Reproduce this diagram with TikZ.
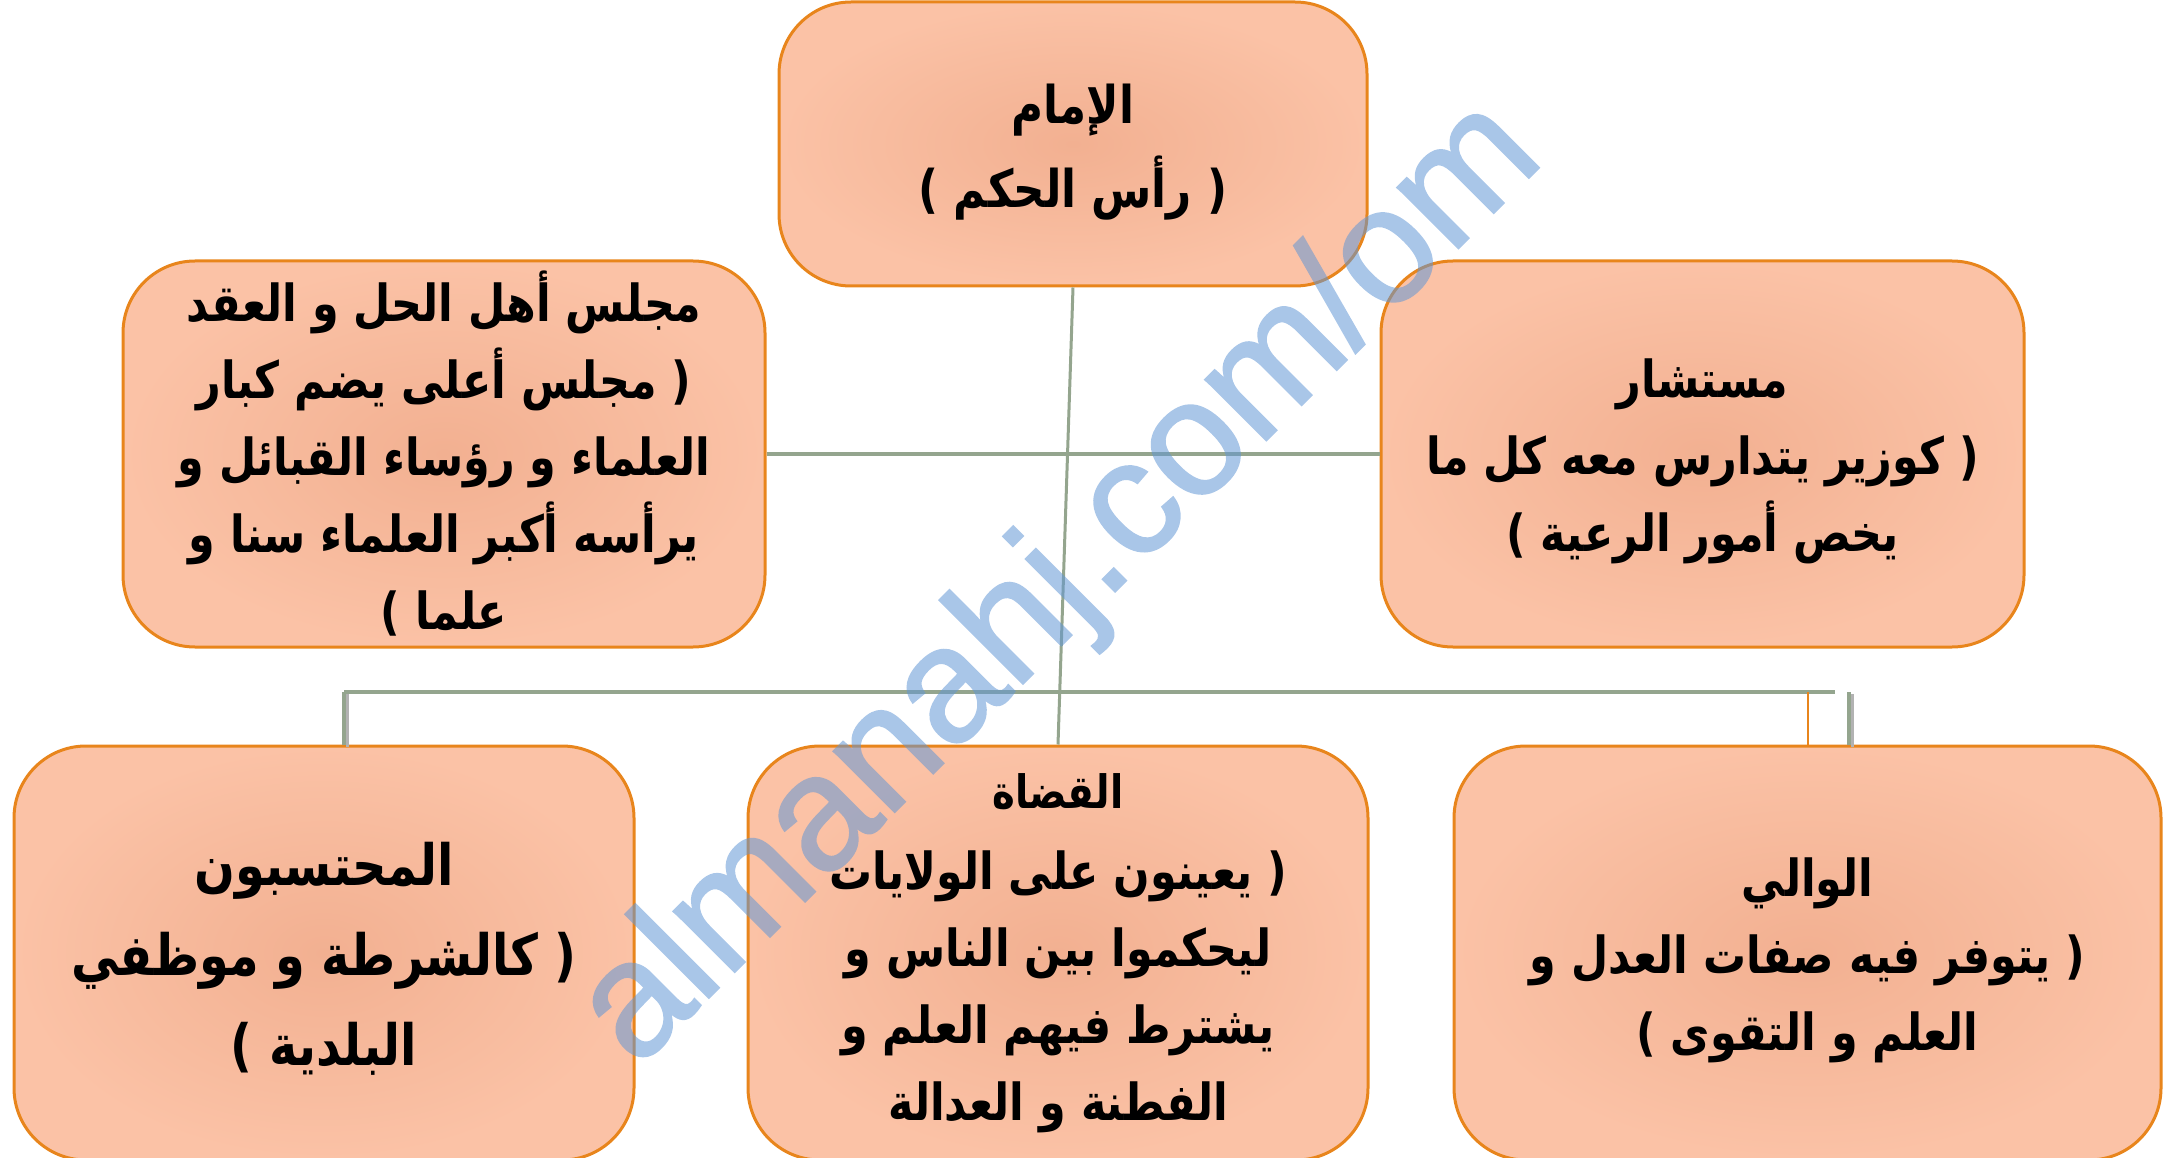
\documentclass[tikz,border=0pt]{standalone}
\usepackage{fontspec}
\usetikzlibrary{calc}
\TeXXeTstate=1
\newfontfamily\arabicfont[Script=Arabic,FakeStretch=0.84,BoldFont={DejaVu Sans Bold}]{DejaVu Sans}
\newfontfamily\markfont[FakeBold=1.2]{Liberation Sans}
\newcommand{\ar}[1]{\beginR #1\endR}
\newcommand{\firstl}[1]{\rule{0pt}{#1pt}}
\definecolor{boxedge}{HTML}{E8851C}
\definecolor{boxin}{HTML}{F2B091}
\definecolor{boxout}{HTML}{FBC2A6}
\definecolor{linkc}{HTML}{94A58E}
\definecolor{wm}{HTML}{6297D5}
\tikzset{
  orgbox/.style={draw=boxedge,line width=3pt,rounded corners=72pt,inner color=boxin,outer color=boxout,rectangle,align=center,inner sep=0pt,text=black},
  txtm/.style={font=\arabicfont\bfseries\fontsize{51}{77}\selectfont},
  txtl/.style={font=\arabicfont\bfseries\fontsize{57}{90}\selectfont},
  txtt/.style={font=\arabicfont\bfseries\fontsize{52}{84}\selectfont},
  link/.style={draw=linkc,line width=4pt},
  shade line/.style={draw=black!30,line width=3pt},
}
\begin{document}
\begin{tikzpicture}[x=1pt,y=-1pt]
\useasboundingbox (0,0) rectangle (2177,1158);
\node[orgbox,txtt,minimum width=588pt,minimum height=284pt] (top) at (1073,144) {\firstl{56}\ar{الإمام}\\\ar{( رأس الحكم )}};
\node[orgbox,txtm,minimum width=642pt,minimum height=386pt] (lft) at (444,454) {\ar{مجلس أهل الحل و العقد}\\\ar{( مجلس أعلى يضم كبار}\\\ar{العلماء و رؤساء القبائل و}\\\ar{يرأسه أكبر العلماء سنا و}\\\ar{علما )}};
\node[orgbox,txtm,minimum width=643pt,minimum height=386pt] (rgt) at (1702.5,454) {\firstl{54}\ar{مستشار}\\\ar{( كوزير يتدارس معه كل ما}\\\ar{يخص أمور الرعية )}};
\node[orgbox,txtl,minimum width=620pt,minimum height=414pt] (bl) at (324,953) {\firstl{54}\ar{المحتسبون}\\\ar{( كالشرطة و موظفي}\\\ar{البلدية )}};
\node[orgbox,txtm,minimum width=620pt,minimum height=414pt] (bm) at (1058,953) {{\fontsize{46}{77}\selectfont\ar{القضاة}}\\[4pt]\ar{( يعينون على الولايات}\\\ar{ليحكموا بين الناس و}\\\ar{يشترط فيهم العلم و}\\\ar{الفطنة و العدالة}};
\node[orgbox,txtm,minimum width=707pt,minimum height=414pt] (br) at (1807.5,953) {\firstl{53}\ar{الوالي}\\\ar{( يتوفر فيه صفات العدل و}\\\ar{العلم و التقوى )}};
\coordinate (busl) at (344,692);
\coordinate (busr) at (1835,692);
\coordinate (stub) at (1849,692);
\draw[draw=linkc,line width=3pt] (top.south) -- (bm.north);
\draw[link] (lft.east) -- (rgt.west);
\draw[shade line] ($(busl)+(3,2)$) -- ($(busl |- bl.north)+(3,2)$);
\draw[shade line] ($(stub)+(3,2)$) -- ($(stub |- br.north)+(3,2)$);
\draw[link] (busl) -- (busr);
\draw[link] (busl) -- (busl |- bl.north);
\draw[link] (stub) -- (stub |- br.north);
\draw[draw=boxedge,line width=2pt] (br.north) -- (br.north |- busr);
\begin{scope}[transparency group,opacity=.55]
\node[rotate=45,text=wm,font=\markfont\fontsize{163}{163}\selectfont,inner sep=0pt] (mark) at (1062,585) {almanahj.com/om};
\end{scope}
\end{tikzpicture}
\end{document}
